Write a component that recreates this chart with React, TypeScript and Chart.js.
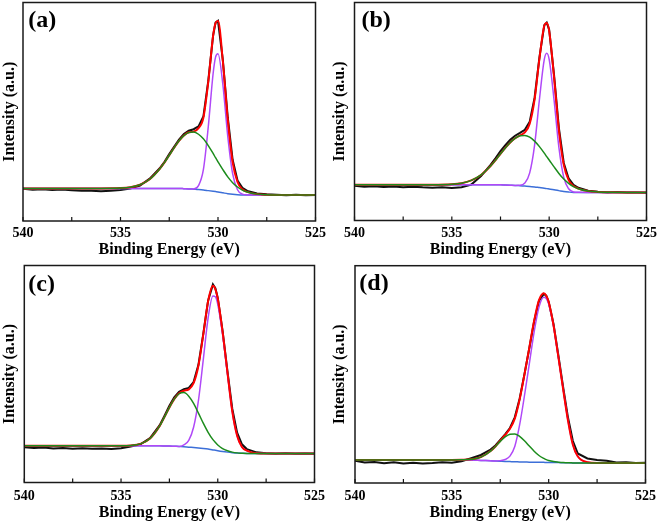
import React, { useEffect, useRef } from "react";
import { Chart, registerables } from "chart.js";

Chart.register(...registerables);

// ---------- data (binding energy in eV, intensity in % of plot height) ----------
const energy = [540, 539, 538, 537, 536, 535, 534.5, 534, 533.5, 533, 532.75, 532.5, 532.25, 532, 531.75, 531.5, 531.25, 531, 530.75, 530.5, 530.25, 530.125, 530, 529.75, 529.5, 529.25, 529, 528.75, 528.5, 528, 527.5, 527, 526, 525];
const rawEnergy = [540, 539.5, 539, 538.5, 538, 537.5, 537, 536.5, 536, 535.5, 535, 534.5, 534, 533.5, 533, 532.75, 532.5, 532.25, 532, 531.75, 531.5, 531.25, 531, 530.75, 530.5, 530.25, 530.125, 530, 529.75, 529.5, 529.25, 529, 528.75, 528.5, 528, 527.5, 527, 526.5, 526, 525.5, 525];
const xTicks = [540, 535, 530, 525];
const panelTags = ["(a)", "(b)", "(c)", "(d)"];

// (a)
const rawA = [14.8, 14.3, 14.5, 14.2, 14.4, 14.1, 13.8, 13.9, 13.6, 13.9, 14.2, 14.9, 16.2, 19.4, 24.0, 27.0, 30.6, 34.0, 37.3, 39.8, 41.3, 42.0, 43.3, 47.8, 64.0, 85.0, 90.8, 91.6, 73.5, 47.5, 28.0, 18.5, 15.2, 13.8, 12.6, 12.2, 12.0, 11.8, 12.0, 11.8, 11.9];
const fitA = [14.9, 14.9, 14.9, 14.9, 14.9, 15.05, 15.45, 16.6, 19.1, 23.7, 26.7, 30.1, 33.5, 36.7, 39.15, 40.6, 40.9, 42.5, 47.2, 63.6, 84.8, 90.6, 91.5, 73.0, 46.5, 27.0, 17.85, 14.5, 13.3, 12.3, 12.0, 11.9, 11.9, 11.9];
const latticeA = [14.9, 14.9, 14.9, 14.9, 14.9, 14.9, 14.9, 14.9, 14.9, 14.9, 14.9, 14.9, 14.9, 14.9, 14.8, 14.7, 14.7, 16.2, 23.5, 43.0, 67.5, 75.0, 76.5, 62.4, 38.8, 21.65, 14.3, 12.3, 11.95, 11.9, 11.9, 11.9, 11.9, 11.9];
const hydroxylA = [14.9, 14.9, 14.9, 14.9, 14.9, 15.05, 15.45, 16.6, 19.1, 23.7, 26.7, 30.1, 33.5, 36.7, 39.1, 40.5, 40.75, 39.7, 37.6, 34.5, 30.9, 28.95, 27.1, 23.5, 20.2, 17.55, 15.55, 14.1, 13.25, 12.3, 12.0, 11.9, 11.9, 11.9];
const backgroundA = [14.9, 14.9, 14.9, 14.9, 14.9, 14.9, 14.9, 14.9, 14.9, 14.9, 14.9, 14.9, 14.9, 14.9, 14.8, 14.7, 14.55, 14.4, 14.2, 13.9, 13.6, 13.45, 13.3, 12.9, 12.5, 12.2, 12.0, 11.9, 11.9, 11.9, 11.9, 11.9, 11.9, 11.9];

// (b)
const rawB = [15.9, 15.5, 15.7, 15.4, 15.6, 15.3, 15.5, 15.2, 15.0, 15.2, 14.9, 15.3, 16.5, 20.4, 25.6, 28.6, 31.8, 34.6, 37.0, 38.9, 40.2, 41.6, 45.3, 56.2, 74.8, 89.6, 90.8, 87.5, 66.8, 42.4, 26.4, 19.3, 16.3, 15.0, 13.7, 13.2, 12.9, 13.1, 12.8, 12.9, 12.7];
const fitB = [16.4, 16.4, 16.4, 16.4, 16.4, 16.6, 17.1, 18.4, 20.9, 25.1, 27.75, 30.6, 33.3, 35.8, 37.7, 39.05, 40.4, 44.45, 55.5, 74.3, 89.3, 90.6, 87.0, 65.9, 41.4, 25.5, 18.55, 15.8, 14.65, 13.5, 13.1, 12.95, 12.9, 12.9];
const latticeB = [16.4, 16.4, 16.4, 16.4, 16.4, 16.4, 16.4, 16.4, 16.4, 16.4, 16.4, 16.4, 16.3, 16.2, 16.1, 16.15, 17.2, 21.85, 34.5, 55.5, 73.9, 76.7, 73.95, 55.4, 33.5, 19.8, 14.55, 13.1, 12.93, 12.9, 12.9, 12.9, 12.9, 12.9];
const hydroxylB = [16.4, 16.4, 16.4, 16.4, 16.4, 16.6, 17.1, 18.4, 20.9, 25.1, 27.75, 30.6, 33.3, 35.8, 37.7, 38.85, 39.0, 38.25, 36.4, 33.9, 30.9, 29.3, 27.75, 24.6, 21.6, 19.0, 17.05, 15.55, 14.6, 13.5, 13.1, 12.95, 12.9, 12.9];
const backgroundB = [16.4, 16.4, 16.4, 16.4, 16.4, 16.4, 16.4, 16.4, 16.4, 16.4, 16.4, 16.4, 16.3, 16.2, 16.1, 15.95, 15.8, 15.65, 15.4, 15.1, 14.8, 14.62, 14.45, 14.1, 13.7, 13.3, 13.05, 12.9, 12.9, 12.9, 12.9, 12.9, 12.9, 12.9];

// (c)
const rawC = [16.3, 15.9, 16.1, 15.7, 15.9, 15.6, 15.8, 15.5, 15.7, 15.4, 15.8, 16.6, 17.6, 20.5, 26.4, 30.8, 35.4, 39.2, 41.8, 43.0, 43.6, 46.3, 54.2, 68.4, 83.8, 91.3, 89.6, 85.0, 69.8, 51.3, 34.0, 23.0, 17.6, 15.4, 13.9, 13.5, 13.3, 13.5, 13.2, 13.4, 13.3];
const fitC = [16.9, 16.9, 16.9, 16.9, 16.9, 16.9, 17.05, 17.8, 20.3, 26.1, 30.25, 34.6, 38.4, 41.1, 42.3, 42.9, 45.75, 53.8, 68.15, 83.55, 90.7, 89.15, 84.7, 69.45, 50.75, 32.8, 21.6, 16.35, 14.7, 13.5, 13.4, 13.4, 13.4, 13.4];
const latticeC = [16.9, 16.9, 16.9, 16.9, 16.9, 16.9, 16.9, 16.9, 16.9, 16.9, 16.85, 16.8, 16.7, 16.6, 17.35, 19.4, 25.45, 37.75, 56.5, 75.8, 85.95, 85.55, 82.05, 68.1, 50.1, 32.5, 21.5, 16.3, 14.7, 13.5, 13.4, 13.4, 13.4, 13.4];
const hydroxylC = [16.9, 16.9, 16.9, 16.9, 16.9, 16.9, 17.05, 17.8, 20.3, 26.1, 30.25, 34.6, 38.4, 40.9, 41.45, 39.8, 36.45, 32.0, 27.35, 23.15, 19.75, 18.45, 17.3, 15.65, 14.65, 14.0, 13.65, 13.5, 13.4, 13.4, 13.4, 13.4, 13.4, 13.4];
const backgroundC = [16.9, 16.9, 16.9, 16.9, 16.9, 16.9, 16.9, 16.9, 16.9, 16.9, 16.85, 16.8, 16.7, 16.6, 16.5, 16.3, 16.15, 15.95, 15.7, 15.4, 15.0, 14.85, 14.65, 14.3, 14.0, 13.75, 13.55, 13.45, 13.4, 13.4, 13.4, 13.4, 13.4, 13.4];

// (d)
const rawD = [10.2, 9.4, 9.7, 9.1, 9.5, 9.0, 9.3, 9.0, 9.2, 9.5, 9.3, 10.0, 11.4, 12.9, 15.4, 17.3, 19.8, 22.4, 25.3, 30.2, 38.8, 50.1, 62.0, 74.3, 83.8, 87.0, 86.2, 83.4, 73.2, 58.8, 44.0, 30.0, 19.3, 13.6, 11.3, 10.6, 10.2, 9.4, 9.5, 9.2, 9.3];
const fitD = [10.6, 10.6, 10.6, 10.6, 10.6, 10.6, 10.65, 10.9, 11.9, 14.7, 16.8, 19.45, 22.1, 24.95, 29.6, 38.45, 49.95, 62.2, 74.65, 84.15, 87.3, 86.2, 83.3, 72.6, 58.0, 43.0, 28.6, 17.6, 12.3, 9.55, 9.2, 9.2, 9.2, 9.2];
const latticeD = [10.6, 10.6, 10.6, 10.6, 10.6, 10.6, 10.6, 10.6, 10.4, 10.2, 10.1, 10.3, 10.8, 12.35, 16.8, 26.7, 40.15, 54.8, 69.55, 81.0, 85.5, 84.9, 82.4, 72.2, 57.8, 43.0, 28.6, 17.6, 12.3, 9.55, 9.2, 9.2, 9.2, 9.2];
const hydroxylD = [10.6, 10.6, 10.6, 10.6, 10.6, 10.6, 10.65, 10.9, 11.9, 14.7, 16.8, 19.15, 21.2, 22.45, 22.6, 21.45, 19.45, 17.0, 14.65, 12.65, 11.3, 10.75, 10.35, 9.85, 9.6, 9.42, 9.3, 9.25, 9.2, 9.2, 9.2, 9.2, 9.2, 9.2];
const backgroundD = [10.6, 10.6, 10.6, 10.6, 10.6, 10.6, 10.6, 10.6, 10.4, 10.2, 10.1, 10.0, 9.9, 9.85, 9.8, 9.7, 9.65, 9.6, 9.55, 9.5, 9.5, 9.45, 9.45, 9.42, 9.4, 9.35, 9.3, 9.25, 9.2, 9.2, 9.2, 9.2, 9.2, 9.2];

// ---------- layout / style ----------
const FONT = "'Liberation Serif', 'Times New Roman', serif";

type Spec = {
  tag: string;
  x: number; y: number; w: number; h: number;
  left: number; right: number; top: number; bottom: number;
  tagDx: number; tagDy: number; tickPad: number;
  raw: number[]; fit: number[]; lattice: number[]; hydroxyl: number[]; background: number[];
};

const specs: Spec[] = [
  { tag: panelTags[0], x: 0, y: 0, w: 330, h: 262, left: 23, right: 318, top: 2.5, bottom: 221, tagDx: 5.3, tagDy: 24.5, tickPad: 4, raw: rawA, fit: fitA, lattice: latticeA, hydroxyl: hydroxylA, background: backgroundA },
  { tag: panelTags[1], x: 330, y: 0, w: 331, h: 262, left: 24.5, right: 318, top: 2.5, bottom: 220.5, tagDx: 7, tagDy: 24.5, tickPad: 4, raw: rawB, fit: fitB, lattice: latticeB, hydroxyl: hydroxylB, background: backgroundB },
  { tag: panelTags[2], x: 0, y: 262, w: 330, h: 263, left: 24.3, right: 318.3, top: 3.5, bottom: 220.5, tagDx: 4, tagDy: 25, tickPad: 5, raw: rawC, fit: fitC, lattice: latticeC, hydroxyl: hydroxylC, background: backgroundC },
  { tag: panelTags[3], x: 330, y: 262, w: 331, h: 263, left: 25, right: 319, top: 3.7, bottom: 221, tagDx: 4.3, tagDy: 24, tickPad: 5, raw: rawD, fit: fitD, lattice: latticeD, hydroxyl: hydroxylD, background: backgroundD },
];

const pts = (xs: number[], ys: number[]) => xs.map((x, i) => ({ x, y: ys[i] }));

function Panel({ spec }: { spec: Spec }) {
  const ref = useRef<HTMLCanvasElement>(null);
  useEffect(() => {
    const canvas = ref.current;
    if (!canvas) return;
    const framePlugin = {
      id: "frame" + spec.tag,
      afterDatasetsDraw(chart: any) {
        const { ctx, chartArea: a, scales } = chart;
        ctx.save();
        ctx.strokeStyle = "#111";
        ctx.lineWidth = 1.2;
        const xs = scales.x;
        xs.ticks.forEach((t: any) => {
          const px = xs.getPixelForValue(t.value);
          ctx.beginPath();
          ctx.moveTo(px, a.bottom);
          ctx.lineTo(px, a.bottom - 4);
          ctx.stroke();
        });
        ctx.lineWidth = 1.5;
        ctx.strokeStyle = "#1a1a1a";
        ctx.strokeRect(a.left, a.top, a.right - a.left, a.bottom - a.top);
        ctx.fillStyle = "#000";
        ctx.font = `bold 24px ${FONT}`;
        ctx.textAlign = "left";
        ctx.textBaseline = "alphabetic";
        ctx.fillText(spec.tag, a.left + spec.tagDx, a.top + spec.tagDy);
        ctx.restore();
      },
    };
    const line = (label: string, data: any, color: string, width: number, order: number, smooth: boolean) => ({
      label,
      data,
      borderColor: color,
      backgroundColor: color,
      borderWidth: width,
      pointRadius: 0,
      fill: false,
      order,
      tension: smooth ? 0.4 : 0,
      cubicInterpolationMode: smooth ? "monotone" : "default",
    });
    const chart = new Chart(canvas, {
      type: "line",
      data: {
        datasets: [
          line("Hydroxyl O", pts(energy, spec.hydroxyl), "#1c8c1c", 1.5, 0, true),
          line("Fit", pts(energy, spec.fit), "#ff0000", 2, 1, true),
          line("Lattice O", pts(energy, spec.lattice), "#b048f8", 1.5, 2, true),
          line("Background", pts(energy, spec.background), "#3c6fd8", 1.5, 3, true),
          line("Raw", pts(rawEnergy, spec.raw), "#111111", 2, 4, false),
        ] as any,
      },
      options: {
        animation: false,
        responsive: false,
        devicePixelRatio: 1,
        events: [],
        layout: { padding: { top: spec.top, right: spec.w - spec.right, left: 0, bottom: 0 } },
        plugins: { legend: { display: false }, tooltip: { enabled: false } },
        scales: {
          x: {
            type: "linear",
            reverse: true,
            min: 525,
            max: 540,
            afterFit: (s: any) => { s.height = spec.h - spec.bottom; },
            grid: { display: false, drawTicks: false },
            border: { display: false },
            ticks: {
              stepSize: 2.5,
              autoSkip: false,
              maxRotation: 0,
              padding: spec.tickPad,
              color: "#000",
              font: { family: FONT, size: 14, weight: "bold" },
              callback: (v: any) => (xTicks.includes(Number(v)) ? String(v) : ""),
            },
            title: {
              display: true,
              text: "Binding Energy (eV)",
              color: "#000",
              font: { family: FONT, size: 16, weight: "bold" },
              padding: { top: 0, bottom: 3 },
            },
          },
          y: {
            type: "linear",
            min: 0,
            max: 100,
            afterFit: (s: any) => { s.width = spec.left; },
            grid: { display: false, drawTicks: false },
            border: { display: false },
            ticks: { display: false },
            title: {
              display: true,
              text: "Intensity (a.u.)",
              color: "#000",
              font: { family: FONT, size: 16, weight: "bold" },
              padding: 0,
            },
          },
        },
      } as any,
      plugins: [framePlugin],
    });
    return () => chart.destroy();
  }, [spec]);
  return (
    <canvas
      ref={ref}
      width={spec.w}
      height={spec.h}
      style={{ position: "absolute", left: spec.x, top: spec.y, width: spec.w, height: spec.h }}
    />
  );
}

export default function App() {
  return (
    <div style={{ position: "fixed", left: 0, top: 0, width: 661, height: 525, background: "#fff" }}>
      {specs.map((s) => (
        <Panel key={s.tag} spec={s} />
      ))}
    </div>
  );
}
